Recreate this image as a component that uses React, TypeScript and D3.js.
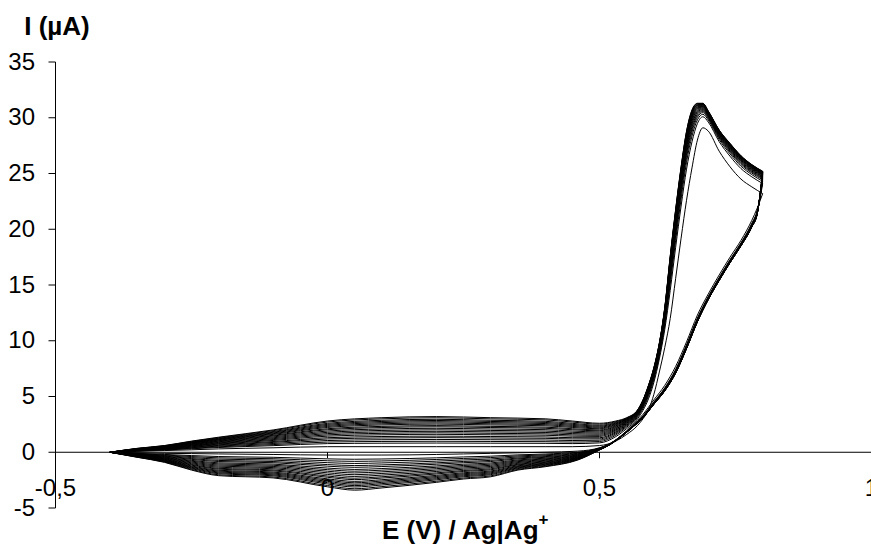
import React from "react";
import * as d3 from "d3";

// ---- Data ----
const forwardPotentials = [-0.40, -0.35, -0.30, -0.25, -0.20, -0.10, 0.00, 0.10, 0.20, 0.30, 0.40, 0.45, 0.50, 0.53, 0.55, 0.57, 0.58, 0.59, 0.60, 0.61, 0.62, 0.63, 0.64, 0.65, 0.66, 0.67, 0.68, 0.69, 0.70, 0.72, 0.74, 0.76, 0.78, 0.80];
const firstForwardCurrent = [0, 0.08, 0.15, 0.22, 0.30, 0.40, 0.50, 0.50, 0.50, 0.50, 0.50, 0.50, 0.60, 1.00, 1.60, 2.40, 3.00, 3.80, 5.20, 7.20, 9.40, 12.0, 15.6, 19.2, 22.6, 25.5, 28.0, 29.1, 28.8, 27.0, 25.6, 24.5, 23.8, 23.2];
const lastForwardCurrent = [0, 0.35, 0.60, 1.00, 1.35, 2.00, 2.80, 3.10, 3.20, 3.10, 3.00, 2.80, 2.60, 2.80, 3.10, 3.80, 4.70, 6.00, 7.60, 9.80, 13.0, 17.6, 21.8, 25.6, 28.8, 30.7, 31.3, 31.3, 30.6, 28.9, 27.7, 26.6, 25.8, 25.2];

const reversePotentials = [0.80, 0.79, 0.78, 0.76, 0.74, 0.72, 0.70, 0.68, 0.66, 0.64, 0.62, 0.60, 0.58, 0.56, 0.54, 0.52, 0.50, 0.46, 0.40, 0.35, 0.30, 0.25, 0.20, 0.10, 0.05, 0.00, -0.10, -0.20, -0.25, -0.30, -0.35, -0.40];
const firstReverseCurrent = [23.2, 21.9, 20.8, 19.0, 17.5, 15.9, 14.2, 12.3, 9.9, 7.7, 6.0, 4.7, 3.4, 2.4, 1.5, 0.8, 0.4, 0.1, 0.0, -0.05, -0.1, -0.15, -0.2, -0.25, -0.25, -0.25, -0.2, -0.15, -0.12, -0.1, -0.05, 0];
const lastReverseCurrent = [25.2, 21.4, 20.2, 18.5, 17.0, 15.4, 13.7, 11.7, 9.3, 7.1, 5.5, 4.3, 3.1, 2.2, 1.4, 0.7, 0.2, -0.7, -1.3, -1.6, -2.2, -2.4, -2.7, -3.2, -3.4, -3.1, -2.3, -2.1, -1.6, -0.9, -0.45, 0];

// growth of each successive scan (0 = first scan, 1 = last scan)
const capacitiveGrowth = [0, 0.12, 0.18, 0.24, 0.30, 0.35, 0.41, 0.46, 0.51, 0.56, 0.61, 0.66, 0.70, 0.75, 0.79, 0.83, 0.87, 0.91, 0.96, 1.0];
const faradaicGrowth = [0, 0.45, 0.55, 0.62, 0.67, 0.71, 0.75, 0.78, 0.81, 0.84, 0.86, 0.88, 0.90, 0.92, 0.94, 0.95, 0.96, 0.98, 0.99, 1.0];

const xTicks = [-0.5, 0, 0.5, 1];
const xTickLabels = ["-0,5", "0", "0,5", "1"];
const yTicks = [-5, 0, 5, 10, 15, 20, 25, 30, 35];

// ---- Layout ----
const W = 871;
const H = 548;
const FONT = "'Liberation Sans', Arial, Helvetica, sans-serif";

export default function App() {
  const x = d3.scaleLinear().domain([-0.5, 1]).range([55.5, 871.5]);
  const y = d3.scaleLinear().domain([-5, 35]).range([508, 62]);

  const blend = (E: number, k: number) => {
    const t = Math.max(0, Math.min(1, (E - 0.5) / 0.08));
    const s = t * t * (3 - 2 * t);
    return capacitiveGrowth[k] + (faradaicGrowth[k] - capacitiveGrowth[k]) * s;
  };

  const line = d3
    .line<[number, number]>()
    .x((d) => x(d[0]))
    .y((d) => y(d[1]))
    .curve(d3.curveMonotoneX);

  const paths: string[] = [];
  capacitiveGrowth.forEach((_, k) => {
    const fwd: [number, number][] = forwardPotentials.map((E, i) => [
      E,
      firstForwardCurrent[i] + blend(E, k) * (lastForwardCurrent[i] - firstForwardCurrent[i]),
    ]);
    const rev: [number, number][] = reversePotentials
      .map((E, i) => [
        E,
        firstReverseCurrent[i] + blend(E, k) * (lastReverseCurrent[i] - firstReverseCurrent[i]),
      ] as [number, number])
      .reverse();
    paths.push(line(fwd) || "");
    paths.push(line(rev) || "");
  });

  const y0 = y(0);
  const axisX = x(-0.5);

  return (
    <svg
      width={W}
      height={H}
      viewBox={`0 0 ${W} ${H}`}
      style={{ position: "absolute", left: 0, top: 0, background: "#fff" }}
    >
      <rect x={0} y={0} width={W} height={H} fill="#fff" />
      {/* curves */}
      <g fill="none" stroke="#000" strokeWidth={1}>
        {paths.map((d, i) => (
          <path key={i} d={d} />
        ))}
      </g>
      {/* y axis */}
      <line x1={axisX} x2={axisX} y1={y(35)} y2={y(-5)} stroke="#000" strokeWidth={1} />
      {yTicks.map((v) => (
        <g key={v}>
          <line x1={axisX - 7} x2={axisX} y1={y(v)} y2={y(v)} stroke="#000" strokeWidth={1} />
          <text
            x={35}
            y={y(v) + 7.5}
            textAnchor="end"
            fontFamily={FONT}
            fontSize={24}
            fill="#000"
          >
            {v}
          </text>
        </g>
      ))}
      {/* x axis at I = 0 */}
      <line x1={axisX} x2={W} y1={y0} y2={y0} stroke="#000" strokeWidth={1} />
      {xTicks.map((v, i) => (
        <g key={v}>
          <line x1={x(v)} x2={x(v)} y1={y0} y2={y0 + 6} stroke="#000" strokeWidth={1} />
          <text
            x={x(v)}
            y={496}
            textAnchor="middle"
            fontFamily={FONT}
            fontSize={24}
            fill="#000"
          >
            {xTickLabels[i]}
          </text>
        </g>
      ))}
      {/* axis titles */}
      <text x={57} y={35} textAnchor="middle" fontFamily={FONT} fontSize={26} fontWeight="bold" fill="#000">
        I (µA)
      </text>
      <text x={382} y={539} fontFamily={FONT} fontSize={26} fontWeight="bold" fill="#000">
        E (V) / Ag|Ag
        <tspan dy={-14} fontSize={17}>+</tspan>
      </text>
    </svg>
  );
}
